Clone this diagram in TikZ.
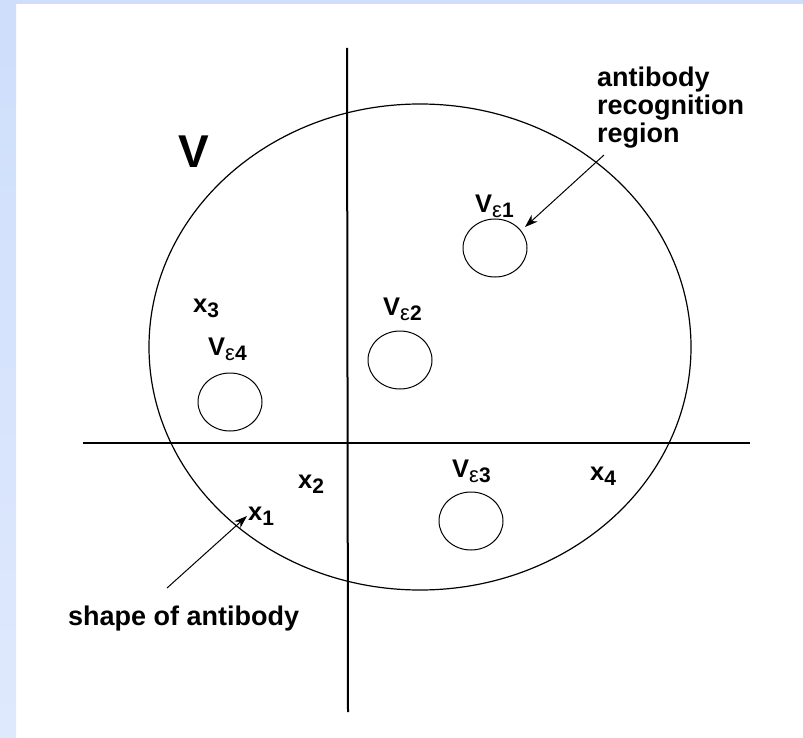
\documentclass[tikz,border=0pt]{standalone}
\usepackage{fontspec}
\setmainfont{Liberation Sans}
\usetikzlibrary{shapes.geometric,arrows.meta}
\definecolor{edgeA}{RGB}{206,222,251}
\definecolor{edgeB}{RGB}{223,233,253}
\newcommand{\lblsub}[2]{{\bfseries #1}\raisebox{-5.5pt}{\fontsize{21}{21}\selectfont #2}}
\newcommand{\eps}{{\mdseries\fontsize{22}{22}\selectfont ε}}
\tikzset{
  lbl/.style={inner sep=0pt, anchor=base west, font=\fontsize{25.5}{28}\selectfont\bfseries},
  txt/.style={inner sep=0pt, anchor=base west, font=\fontsize{27}{28}\selectfont\bfseries},
  region/.style={draw, ellipse, inner sep=0pt, line width=1pt, minimum width=64pt, minimum height=58pt},
  axis/.style={line width=2pt},
  pointer/.style={line width=1pt, -{Stealth[length=13pt,width=9pt]}}
}
\begin{document}
\begin{tikzpicture}[x=1pt,y=-1pt]
\useasboundingbox (0,0) rectangle (803,738);
\fill[white] (0,0) rectangle (803,738);
\shade[top color=edgeA, bottom color=edgeB] (0,0) rectangle (16,738);
\fill[edgeA] (0,0) rectangle (803,4);
% axes
\coordinate (vt) at (347,48);
\coordinate (vb) at (348,712);
\coordinate (hl) at (83,443);
\coordinate (hr) at (750,443);
\draw[axis] (vt) -- (vb);
\draw[axis] (hl) -- (hr);
% big ellipse
\node[draw, ellipse, inner sep=0pt, line width=1.2pt, minimum width=542pt, minimum height=486pt] (bigV) at (420,347) {};
% small regions
\node[region] (c1) at (495,248) {};
\node[region] (c2) at (400,360) {};
\node[region] (c3) at (471,521) {};
\node[region] (c4) at (230,402) {};
% labels
\node[lbl, font=\fontsize{46}{46}\selectfont\bfseries] (Vlab) at (178,168) {V};
\node[lbl] (l1) at (475,212) {\lblsub{V}{\eps\bfseries 1}};
\node[lbl] (l2) at (383,315) {\lblsub{V}{\eps\bfseries 2}};
\node[lbl] (l3) at (452,477) {\lblsub{V}{\eps\bfseries 3}};
\node[lbl] (l4) at (208,355) {\lblsub{V}{\eps\bfseries 4}};
\node[lbl] (x1) at (248,520) {\lblsub{x}{1}};
\node[lbl] (x2) at (298,488) {\lblsub{x}{2}};
\node[lbl] (x3) at (193,312) {\lblsub{x}{3}};
\node[lbl] (x4) at (590,480) {\lblsub{x}{4}};
\node[txt, align=left] (arr) at (597,143) {antibody\\recognition\\region};
\node[txt] (soa) at (68,625) {shape of antibody};
% arrows
\coordinate (a1s) at (604,155);
\coordinate (a1e) at (525,227);
\draw[pointer] (a1s) -- (a1e);
\coordinate (a2s) at (167,588);
\coordinate (a2e) at (247,516);
\draw[pointer] (a2s) -- (a2e);
\end{tikzpicture}
\end{document}
